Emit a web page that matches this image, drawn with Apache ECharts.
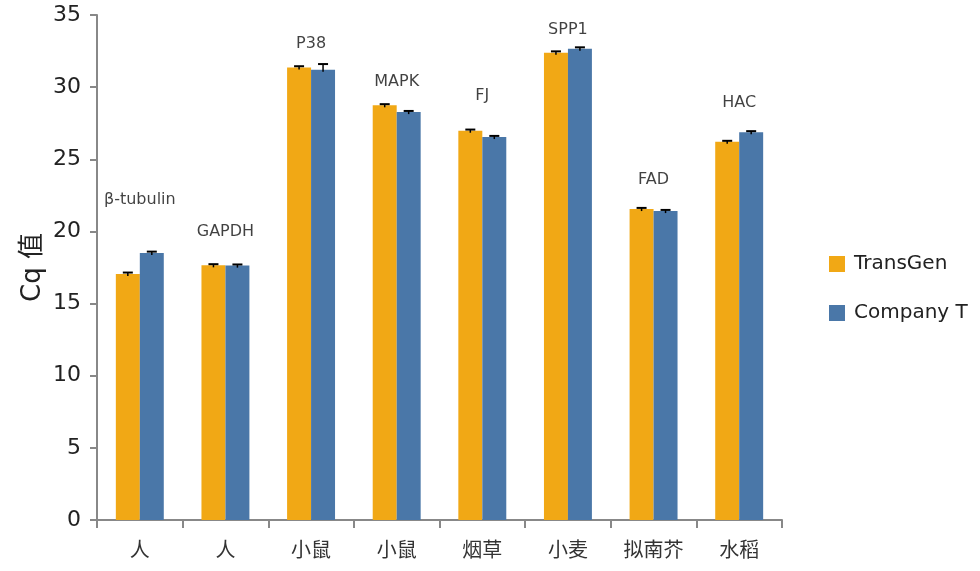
<!DOCTYPE html>
<html>
<head>
<meta charset="utf-8">
<script src="https://cdn.jsdelivr.net/npm/echarts@6/dist/echarts.min.js"></script>
<style>html,body{margin:0;padding:0;background:#fff}#c{width:980px;height:571px}</style>
</head>
<body>
<div id="c"></div>
<script>
var categories = ['人', '人', '小鼠', '小鼠', '烟草', '小麦', '拟南芥', '水稻'];
var geneNames = ['β-tubulin', 'GAPDH', 'P38', 'MAPK', 'FJ', 'SPP1', 'FAD', 'HAC'];
var geneLabelLevels = [22.2, 20.0, 33.0, 30.35, 29.4, 34.0, 23.6, 28.9];
var transGen = [17.05, 17.65, 31.37, 28.74, 26.98, 32.38, 21.55, 26.22];
var transGenErr = [0.1, 0.08, 0.08, 0.08, 0.08, 0.1, 0.08, 0.06];
var companyT = [18.5, 17.63, 31.2, 28.27, 26.54, 32.66, 21.41, 26.87];
var companyTErr = [0.1, 0.08, 0.4, 0.08, 0.08, 0.1, 0.08, 0.08];
var yTicks = [0, 5, 10, 15, 20, 25, 30, 35];

var FONT = '"DejaVu Sans", "Noto Sans CJK SC", sans-serif';
var ORANGE = '#F1A815';
var BLUE = '#4A77A8';
var CAT_GAP = 0.44;

function errSeries(vals, errs, side) {
  return {
    type: 'custom',
    silent: true,
    z: 5,
    data: vals.map(function (v, i) { return [i, v, errs[i]]; }),
    renderItem: function (params, api) {
      var i = api.value(0), v = api.value(1), e = api.value(2);
      var band = api.size([1, 0])[0];
      var off = side * band * (1 - CAT_GAP) / 4;
      var top = api.coord([i, v + e]);
      var base = api.coord([i, v]);
      var x = top[0] + off;
      var cap = 5;
      return {
        type: 'group',
        children: [
          { type: 'line', shape: { x1: x, y1: top[1], x2: x, y2: base[1] + 2 }, style: { stroke: '#000', lineWidth: 1.5 } },
          { type: 'line', shape: { x1: x - cap, y1: top[1], x2: x + cap, y2: top[1] }, style: { stroke: '#000', lineWidth: 2 } }
        ]
      };
    }
  };
}

var chart = echarts.init(document.getElementById('c'));
chart.setOption({
  animation: false,
  backgroundColor: '#fff',
  textStyle: { fontFamily: FONT },
  grid: { left: 97, right: 198, top: 15, bottom: 51, containLabel: false },
  legend: {
    orient: 'vertical',
    left: 824,
    top: 249,
    itemWidth: 16,
    itemHeight: 16,
    itemGap: 29,
    icon: 'rect',
    textStyle: { fontSize: 20, color: '#222', fontFamily: FONT, padding: [0, 0, 0, 4] },
    data: ['TransGen', 'Company T']
  },
  xAxis: {
    type: 'category',
    data: categories,
    axisLine: { lineStyle: { color: '#888', width: 2 } },
    axisTick: { show: true, length: 8, lineStyle: { color: '#888', width: 2 } },
    axisLabel: { fontSize: 20, color: '#333', margin: 22, fontFamily: FONT }
  },
  yAxis: {
    type: 'value',
    min: 0,
    max: 35,
    interval: 5,
    name: 'Cq 值',
    nameLocation: 'middle',
    nameGap: 51,
    nameMoveOverlap: false,
    nameRotate: 90,
    nameTextStyle: { fontSize: 26, color: '#222', fontFamily: FONT },
    axisLine: { show: true, lineStyle: { color: '#888', width: 2 } },
    axisTick: { show: true, length: 7, lineStyle: { color: '#888', width: 2 } },
    splitLine: { show: false },
    axisLabel: {
      fontSize: 22, color: '#222', margin: 16, fontFamily: FONT,
      formatter: function (v) { return yTicks.indexOf(v) >= 0 ? String(v) : ''; }
    }
  },
  series: [
    {
      name: 'TransGen', type: 'bar', data: transGen,
      barGap: '0%', barCategoryGap: (CAT_GAP * 100) + '%',
      itemStyle: { color: ORANGE }
    },
    {
      name: 'Company T', type: 'bar', data: companyT,
      barGap: '0%', barCategoryGap: (CAT_GAP * 100) + '%',
      itemStyle: { color: BLUE }
    },
    errSeries(transGen, transGenErr, -1),
    errSeries(companyT, companyTErr, 1),
    {
      type: 'scatter',
      silent: true,
      symbolSize: 0,
      data: geneLabelLevels.map(function (v, i) { return [i, v]; }),
      label: {
        show: true,
        position: 'inside',
        fontSize: 16,
        color: '#111',
        fontFamily: FONT,
        formatter: function (p) { return geneNames[p.dataIndex]; }
      }
    }
  ]
});
</script>
</body>
</html>
